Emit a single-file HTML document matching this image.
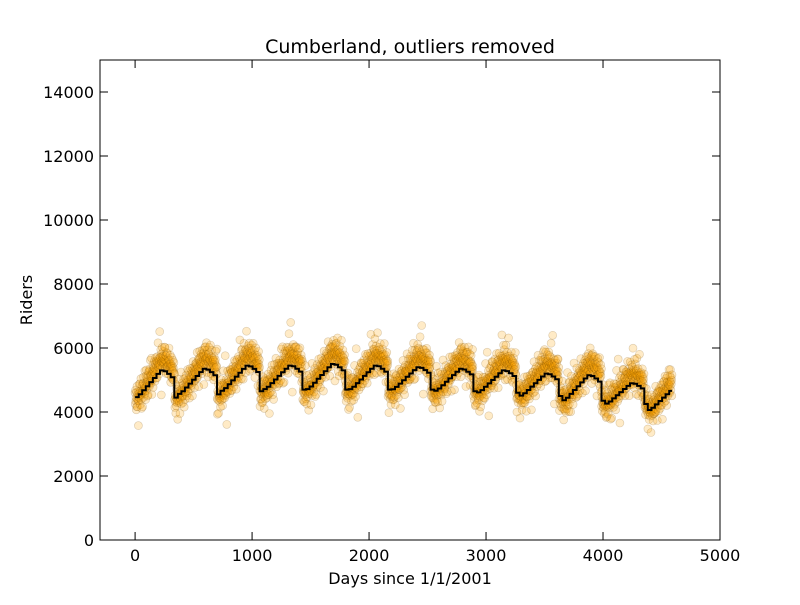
<!DOCTYPE html>
<html><head><meta charset="utf-8"><style>
body{margin:0;background:#fff}
svg text{font-family:"DejaVu Sans","Liberation Sans",sans-serif;fill:#000}
</style></head><body>
<svg id="chart" width="800" height="600" viewBox="0 0 800 600" xmlns="http://www.w3.org/2000/svg">
<rect width="800" height="600" fill="#fff"/>
<text x="410" y="53" font-size="19" text-anchor="middle">Cumberland, outliers removed</text>
<g id="scatter"></g>
<path id="line" fill="none" stroke="#000" stroke-width="2"/>
<rect x="100" y="60" width="620" height="480" fill="none" stroke="#000" stroke-width="1"/>
<g id="axes"></g>
<text x="410" y="584" font-size="16" text-anchor="middle">Days since 1/1/2001</text>
<text x="32" y="300" font-size="16" text-anchor="middle" transform="rotate(-90 32 300)">Riders</text>
</svg>
<script>
const xTicks=[0,1000,2000,3000,4000,5000];
const yTicks=[0,2000,4000,6000,8000,10000,12000,14000];
const years=[2001,2002,2003,2004,2005,2006,2007,2008,2009,2010,2011,2012,2013];
const yearTrough=[4450,4550,4650,4700,4700,4700,4700,4650,4600,4500,4350,4250,4050];
const yearPeak=[5300,5350,5450,5450,5500,5450,5400,5350,5300,5200,5150,4900,4750];
const monthShape=[0.02,0.12,0.27,0.42,0.57,0.72,0.87,1,0.97,0.87,0.75,0];
const scatterOffsets=[120,-200,350,-80,40,-420,260,-150,500,10,-300,180,-60,90,-520,300,-240,60,420,-110,-30,220,-380,150,-10,640,-180,80,-260,30,360,-90,-700,200,-140,110,460,-330,20,-50];
const lastDay=4590;
const X0=100,X1=720,XMIN=-300,XMAX=5000,Y0=540,Y1=60,YMIN=0,YMAX=15000;
const sx=v=>X0+(v-XMIN)/(XMAX-XMIN)*(X1-X0);
const sy=v=>Y0-(v-YMIN)/(YMAX-YMIN)*(Y0-Y1);
const NS='http://www.w3.org/2000/svg';
const ML=30.4375;
const monthly=[];
years.forEach((y,i)=>{monthShape.forEach((s,m)=>{monthly.push(yearTrough[i]+s*(yearPeak[i]-yearTrough[i]));});});
let d='';
for(let k=0;k<monthly.length;k++){
  const a=k*ML,b=Math.min((k+1)*ML,lastDay);
  if(a>=lastDay)break;
  d+=(k===0?'M':'L')+sx(a).toFixed(1)+' '+sy(monthly[k]).toFixed(1)+'L'+sx(b).toFixed(1)+' '+sy(monthly[k]).toFixed(1);
}
document.getElementById('line').setAttribute('d',d);
const g=document.getElementById('scatter');
let idx=0;
for(let day=0;day<=lastDay;day+=2){
  const k=Math.floor(day/ML);
  const yi=Math.floor(k/12),m=k%12;
  const base=monthly[k];
  const amp=yearPeak[yi]-yearTrough[yi];
  const v=base+100+(monthShape[m]-0.4)*amp*0.5+scatterOffsets[idx%scatterOffsets.length]*(idx%7===0?1.6:0.8);
  const c=document.createElementNS(NS,'circle');
  
  
  c.setAttribute('cx',sx(day).toFixed(1));c.setAttribute('cy',sy(v).toFixed(1));c.setAttribute('r','4');
  c.setAttribute('fill','rgba(255,165,0,0.22)');c.setAttribute('stroke','rgba(110,70,0,0.25)');c.setAttribute('stroke-width','0.6');
  g.appendChild(c);idx++;
}
const ax=document.getElementById('axes');
xTicks.forEach(t=>{
  const x=sx(t);
  const l=document.createElementNS(NS,'path');
  
  
  l.setAttribute('d',`M${x} 540V532M${x} 60V68`);l.setAttribute('stroke','#000');ax.appendChild(l);
  const tx=document.createElementNS(NS,'text');
  
  
  tx.setAttribute('x',x);tx.setAttribute('y',561);tx.setAttribute('font-size','16');tx.setAttribute('text-anchor','middle');tx.textContent=t;ax.appendChild(tx);
});
yTicks.forEach(t=>{
  const y=sy(t);
  const l=document.createElementNS(NS,'path');
  
  
  l.setAttribute('d',`M100 ${y}H108M720 ${y}H712`);l.setAttribute('stroke','#000');ax.appendChild(l);
  const tx=document.createElementNS(NS,'text');
  
  
  tx.setAttribute('x',94);tx.setAttribute('y',y+6);tx.setAttribute('font-size','16');tx.setAttribute('text-anchor','end');tx.textContent=t;ax.appendChild(tx);
});
</script>
</body></html>
